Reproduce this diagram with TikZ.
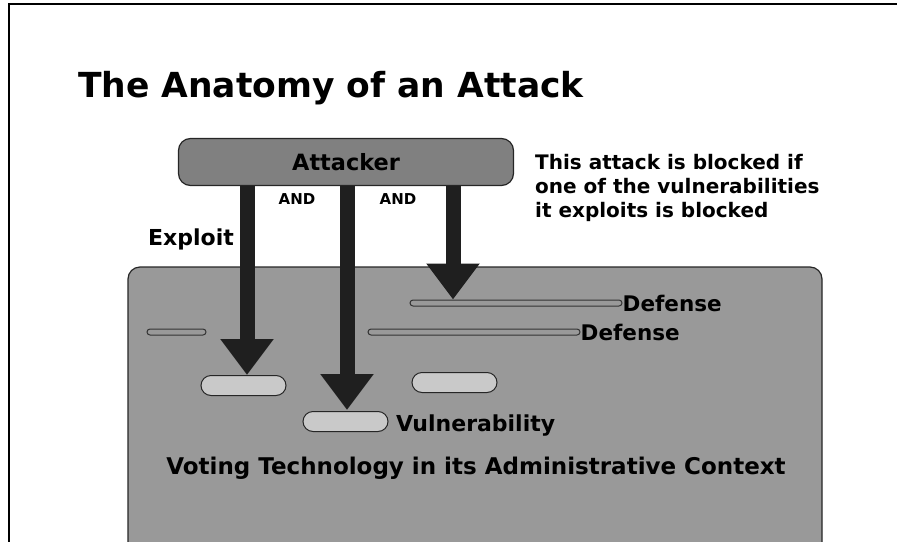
\documentclass[tikz,border=0pt]{standalone}
\usepackage{fontspec}
\setmainfont{DejaVu Sans}
\usetikzlibrary{arrows.meta}
\definecolor{attfill}{gray}{0.50}
\definecolor{boxfill}{gray}{0.60}
\definecolor{pillfill}{gray}{0.79}
\definecolor{arrowc}{gray}{0.12}
\tikzset{
  pill/.style={draw=black!85, fill=pillfill, rounded corners=10pt, line width=1pt, minimum width=85pt, minimum height=20pt, inner sep=0pt},
  defbar/.style={draw=black!80, fill=boxfill, rounded corners=3pt, line width=1pt, minimum height=6pt, inner sep=0pt},
  bigarrow/.style={arrowc, line width=15pt, -{Triangle[length=36pt,width=51pt]}},
  blbl/.style={inner sep=0pt, font=\fontsize{22}{26}\selectfont\bfseries},
  notelbl/.style={inner sep=0pt, font=\fontsize{20}{24}\selectfont\bfseries},
  andlbl/.style={inner sep=0pt, font=\fontsize{15}{18}\selectfont\bfseries},
}
\begin{document}
\begin{tikzpicture}[x=1pt,y=-1pt]
\useasboundingbox (0,0) rectangle (897,541);
% frame
\draw[line width=2pt] (9,600) -- (9,4) -- (900,4);
% title
\node[anchor=base west, inner sep=0pt, font=\fontsize{34.5}{40}\selectfont\bfseries] (title) at (78,97) {The Anatomy of an Attack};
% context box
\draw[draw=black!85, fill=boxfill, line width=1.2pt, rounded corners=12pt] (128,600) -- (128,267) -- (822,267) -- (822,600);
% attacker
\node[draw=black!85, fill=attfill, rounded corners=12pt, line width=1.2pt, minimum width=335pt, minimum height=47pt, inner sep=0pt] (att) at (346,162) {};
\node[blbl, anchor=base, font=\fontsize{22.4}{26}\selectfont\bfseries] (attl) at (346,170) {Attacker};
% defenses
\node[defbar, minimum width=212pt] (def1) at (516,303) {};
\node[defbar, minimum width=212pt] (def2) at (474,332) {};
\node[defbar, minimum width=59pt] (def3) at (176.5,332) {};
\node[blbl, anchor=base west, font=\fontsize{21.5}{26}\selectfont\bfseries] (def1l) at (def1.east |- 0,311) {Defense};
\node[blbl, anchor=base west, font=\fontsize{21.5}{26}\selectfont\bfseries] (def2l) at (def2.east |- 0,340) {Defense};
% vulnerabilities
\node[pill] (v1) at (243.5,385.5) {};
\node[pill] (v2) at (454.5,382.5) {};
\node[pill] (v3) at (345.5,421.5) {};
\node[blbl, anchor=base west] (vl) at (396,431) {Vulnerability};
% arrows
\coordinate (t1) at (247,375);
\coordinate (t2) at (347,410);
\coordinate (t3) at (453,299.5);
\draw[bigarrow] (att.south -| t1) -- (t1);
\draw[bigarrow] (att.south -| t2) -- (t2);
\draw[bigarrow] (att.south -| t3) -- (t3);
% labels
\node[andlbl, anchor=base] (and1) at (297,204) {AND};
\node[andlbl, anchor=base] (and2) at (398,204) {AND};
\node[blbl, anchor=base west] (expl) at (148,245) {Exploit};
\node[notelbl, anchor=base west] (note1) at (535,169) {This attack is blocked if};
\node[notelbl, anchor=base west] (note2) at (535,193) {one of the vulnerabilities};
\node[notelbl, anchor=base west] (note3) at (535,217) {it exploits is blocked};
\node[blbl, anchor=base, font=\fontsize{23}{27}\selectfont\bfseries] (ctx) at (476,474) {Voting Technology in its Administrative Context};
\end{tikzpicture}
\end{document}
